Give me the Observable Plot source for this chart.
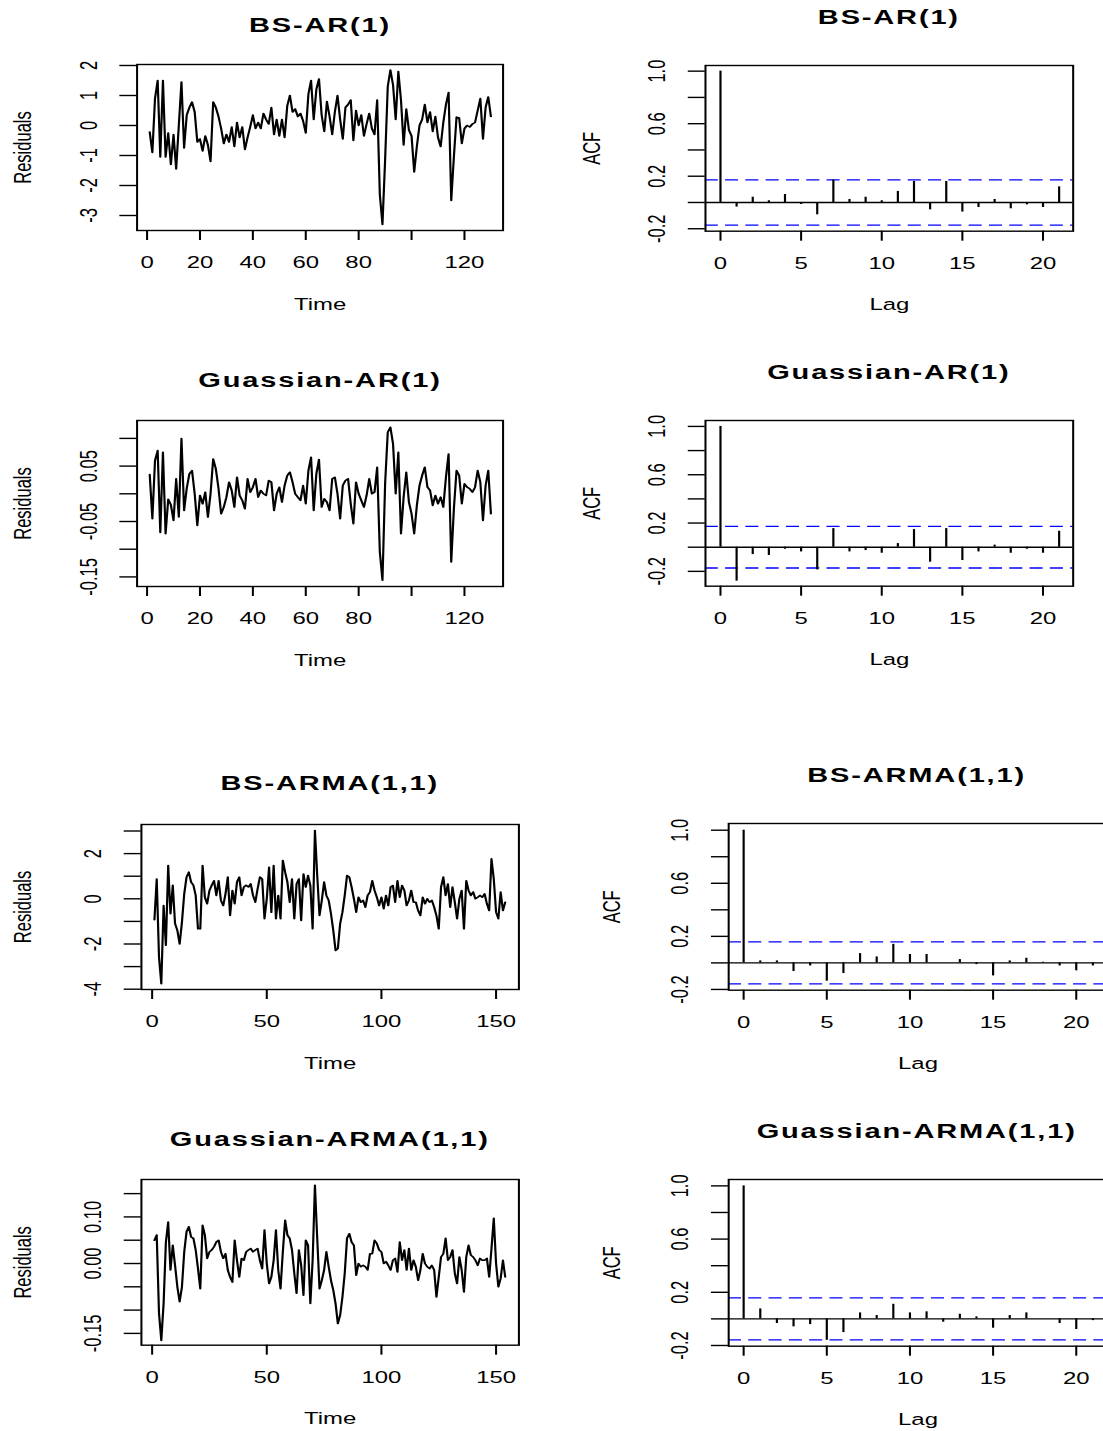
<!DOCTYPE html>
<html><head><meta charset="utf-8">
<script src="https://cdn.jsdelivr.net/npm/d3@7"></script>
<script src="https://cdn.jsdelivr.net/npm/@observablehq/plot@0.6"></script>
<style>
html,body{margin:0;padding:0;background:#fff;overflow:hidden;width:1103px;height:1431px;}
#stage{position:absolute;left:0;top:0;width:800px;height:1431px;transform:scaleX(1.45);transform-origin:0 0;font-family:"Liberation Sans",Arial,sans-serif;}
.title{position:absolute;font-weight:bold;font-size:20px;letter-spacing:1.27px;white-space:nowrap;transform:translate(-50%,-50%);color:#000;line-height:1.15;}
.panel{position:absolute;}
#stage svg{max-width:none !important;overflow:visible !important;background:transparent !important;font-family:"Liberation Sans",Arial,sans-serif !important;}
</style></head>
<body><div id="stage"></div>
<script>
// ---------------- data ----------------
const titlesLeft = ["BS-AR(1)", "Guassian-AR(1)", "BS-ARMA(1,1)", "Guassian-ARMA(1,1)"];

const bsAR1 = [-0.22,-0.9,0.9,1.5,-1.05,1.5,-1.05,-0.25,-1.3,-0.3,-1.45,0.0,1.45,-0.75,0.35,0.6,0.78,0.45,-0.55,-0.45,
-0.85,-0.35,-0.65,-1.2,0.78,0.6,0.3,-0.1,-0.6,-0.3,-0.55,-0.05,-0.7,0.1,-0.4,-0.05,-0.8,-0.4,-0.05,0.35,
-0.1,0.1,-0.1,0.4,0.2,0.05,0.6,-0.3,0.2,-0.35,0.2,-0.4,0.65,1.0,0.45,0.55,0.3,0.4,0.15,-0.25,
1.05,1.5,0.2,1.2,1.55,0.35,-0.2,0.8,0.3,-0.3,0.45,1.0,0.2,-0.45,0.6,0.7,0.85,-0.5,0.5,0.0,
0.35,-0.35,0.05,0.4,-0.1,-0.3,0.85,-2.3,-3.3,-1.15,1.3,1.85,1.35,0.2,1.8,0.85,-0.65,0.55,-0.15,-0.35,
-1.55,-0.7,0.0,0.2,0.7,0.1,0.45,-0.2,0.3,-0.4,-0.7,0.1,0.7,1.1,-2.5,-1.05,0.28,0.25,-0.6,-0.1,
0.0,-0.05,0.05,0.1,0.5,0.9,-0.45,0.6,0.95,0.3];

const gaussAR1 = [0.035,-0.045,0.06,0.078,-0.07,0.075,-0.072,-0.01,-0.02,-0.048,0.027,-0.042,0.1,-0.03,0.01,0.036,0.042,0.0,-0.057,-0.003,
-0.018,0.003,-0.042,0.0,0.063,0.045,0.01,-0.036,-0.024,-0.006,0.021,0.006,-0.024,0.03,-0.003,-0.012,-0.027,0.027,0.003,0.012,
0.027,-0.006,0.006,0.0,-0.003,0.024,0.021,-0.03,0.0,0.012,-0.015,0.015,0.033,0.039,0.021,0.0,-0.006,-0.012,0.015,-0.018,
0.042,0.066,-0.03,0.036,0.062,-0.024,-0.009,-0.015,-0.03,0.027,0.03,0.0,-0.045,0.015,0.024,0.027,-0.018,-0.054,0.021,0.0,
-0.012,-0.024,-0.003,0.027,0.0,0.003,0.048,-0.105,-0.156,0.018,0.111,0.12,0.09,0.0,0.075,-0.072,-0.006,0.039,-0.015,-0.036,
-0.072,-0.021,0.015,0.033,0.048,0.012,0.006,-0.021,-0.003,-0.018,-0.006,-0.024,0.03,0.072,-0.123,-0.027,0.042,0.033,-0.018,0.018,
0.012,0.009,0.003,0.012,0.042,0.021,-0.048,0.015,0.042,-0.036];

const bsARMA = [-0.93,0.88,-2.58,-3.76,-0.3,-2.06,1.47,-0.66,0.6,-1.1,-1.4,-2.0,-1.03,0.22,0.96,1.18,0.74,0.6,0.15,-1.33,
-1.33,1.47,0.07,-0.22,0.37,0.6,0.8,0.15,0.8,-0.07,-0.3,0.22,0.96,-0.74,0.37,-0.22,0.74,0.96,0.15,0.52,
0.6,0.52,0.66,0.15,-0.15,0.44,0.96,0.88,-0.88,0.0,1.4,-0.6,1.47,-0.88,0.15,-0.88,1.7,1.18,0.74,-0.15,
0.88,-0.88,0.66,0.88,-0.96,1.1,0.52,1.03,0.59,-1.33,3.02,1.03,-0.74,-0.07,0.74,0.15,-0.07,-0.66,-1.4,-2.29,
-2.2,-1.1,-0.59,0.15,1.03,0.96,0.52,0.0,-0.59,0.07,-0.15,-0.07,-0.37,0.15,0.3,0.8,0.37,0.07,-0.3,0.07,
-0.44,0.15,-0.3,0.52,0.59,-0.15,0.8,0.07,0.59,0.37,-0.3,-0.07,0.37,-0.15,-0.15,-0.52,-0.74,0.07,-0.22,0.0,
-0.15,-0.07,-0.37,-0.74,-1.33,0.52,0.96,0.15,0.66,-0.37,0.52,-0.15,-0.88,0.0,0.37,-1.33,0.8,0.37,0.15,0.3,
0.0,0.07,0.15,0.07,0.22,-0.22,-0.52,1.77,0.88,-0.59,-0.88,0.3,-0.52,-0.15];

const gaussARMA = [0.05,0.061,-0.107,-0.165,-0.086,0.046,0.089,-0.014,0.039,-0.004,-0.05,-0.082,-0.05,0.025,0.068,0.079,0.057,0.054,0.029,-0.011,
-0.054,0.082,0.061,0.011,0.025,0.029,0.036,0.046,0.05,0.025,0.011,0.021,-0.014,-0.029,-0.04,0.05,0.007,-0.029,0.011,0.007,
0.025,0.029,0.032,0.025,0.029,0.032,0.007,-0.011,0.072,0.0,-0.043,-0.029,0.007,0.072,-0.014,-0.054,0.025,0.093,0.061,0.054,
0.029,-0.021,-0.064,0.029,-0.004,-0.068,0.05,0.039,-0.086,0.007,0.168,0.054,-0.054,-0.036,-0.014,0.025,-0.007,-0.036,-0.057,-0.086,
-0.129,-0.111,-0.072,-0.021,0.054,0.064,0.046,0.039,-0.025,0.0,-0.007,-0.004,-0.007,-0.014,0.021,0.021,0.05,0.043,0.029,0.025,
0.0,0.004,-0.004,-0.014,0.007,0.011,-0.018,0.046,0.007,0.029,-0.014,0.032,-0.014,0.007,-0.007,-0.036,-0.014,0.021,0.0,-0.007,
-0.011,-0.004,-0.014,-0.072,-0.029,0.014,0.021,0.054,0.007,0.014,0.029,-0.021,-0.043,0.014,-0.014,-0.061,0.014,0.039,0.018,0.014,
0.007,-0.004,0.011,0.007,0.007,0.011,-0.029,0.032,0.097,0.0,-0.05,-0.032,0.007,-0.029];

const acfBsAR1 = [1.0,-0.035,0.04,0.013,0.061,-0.015,-0.094,0.17,0.023,0.04,0.013,0.084,0.16,-0.056,0.16,-0.073,-0.038,0.023,-0.048,-0.018,-0.038,0.119];
const acfGaussAR1 = [1.0,-0.281,-0.061,-0.069,-0.017,-0.039,-0.188,0.154,-0.039,-0.028,-0.05,0.03,0.146,-0.124,0.154,-0.11,-0.039,0.017,-0.05,-0.017,-0.05,0.132];
const acfBsARMA = [1.0,0.015,0.015,-0.065,-0.023,-0.138,-0.08,0.07,0.045,0.14,0.063,0.063,0.0,0.025,-0.013,-0.098,0.015,0.035,0.005,-0.023,-0.06,-0.023];
const acfGaussARMA = [1.0,0.075,-0.035,-0.06,-0.043,-0.161,-0.103,0.045,0.025,0.11,0.045,0.053,-0.025,0.035,0.015,-0.07,0.025,0.045,0.0,-0.035,-0.08,-0.013];
const ciAR = 0.172;
const ciARMA = 0.158;

const ticksTimeAR = [0,20,40,60,80,100,120];
const labelsTimeAR = [0,20,40,60,80,120];
const ticksTimeARMA = [0,50,100,150];
const ticksLag = [0,5,10,15,20];
const ticksAcf = [-0.2,0,0.2,0.4,0.6,0.8,1.0];
const labelsAcf = [-0.2,0.2,0.6,1.0];
const ticksResBsAR = [-3,-2,-1,0,1,2];
const ticksResGaussAR = [-0.15,-0.1,-0.05,0,0.05,0.1];
const labelsResGaussAR = [-0.15,-0.05,0.05];
const ticksResBsARMA = [-4,-3,-2,-1,0,1,2,3];
const labelsResBsARMA = [-4,-2,0,2];
const ticksResGaussARMA = [-0.15,-0.1,-0.05,0,0.05,0.1,0.15];
const labelsResGaussARMA = [-0.15,0,0.1];

// ---------------- layout ----------------
const S = 1.45;           // horizontal stretch of the original picture
const mL = 132, mR = 24, mT = 16, mB = 92;
const stage = document.getElementById("stage");
const intFmt = d => String(d);
const f1 = d => d.toFixed(1);
const f2 = d => d.toFixed(2);

function addTitle(text, cx, cy) {
  const d = document.createElement("div");
  d.className = "title";
  d.textContent = text;
  d.style.left = (cx / S) + "px";
  d.style.top = cy + "px";
  stage.appendChild(d);
}

function addPanel(cfg, dataMarks) {
  const [fx0, fx1, fy0, fy1] = cfg.frame;
  const w = (fx1 - fx0 + mL + mR) / S;
  const h = fy1 - fy0 + mT + mB;
  const fs = 16.5;
  const plot = Plot.plot({
    width: w, height: h,
    marginLeft: mL / S, marginRight: mR / S, marginTop: mT, marginBottom: mB,
    x: {domain: cfg.xDomain},
    y: {domain: cfg.yDomain},
    marks: [
      ...dataMarks,
      Plot.frame({stroke: "#000", strokeWidth: 1.4}),
      Plot.axisY({ticks: cfg.yTicks, tickSize: 17 / S, tickFormat: () => "", fill: "none", label: null, strokeWidth: 1.4}),
      Plot.axisX({ticks: cfg.xTicks, tickSize: 10, tickFormat: () => "", fill: "none", label: null, strokeWidth: 1.4}),
      Plot.text(cfg.yLabels, {y: d => d, text: cfg.yFmt, frameAnchor: "left", dx: -48 / S, rotate: -90,
        textAnchor: "middle", lineAnchor: "middle", fontSize: fs, fill: "#000"}),
      Plot.text(cfg.xLabels, {x: d => d, text: intFmt, frameAnchor: "bottom", dy: 32.5,
        textAnchor: "middle", lineAnchor: "middle", fontSize: fs, fill: "#000"}),
      Plot.text([cfg.xTitle], {text: d => d, frameAnchor: "bottom", dy: 74,
        textAnchor: "middle", lineAnchor: "middle", fontSize: fs, fill: "#000"}),
      Plot.text([cfg.yTitle], {text: d => d, frameAnchor: "left", dx: -cfg.yTitleOff / S, rotate: -90,
        textAnchor: "middle", lineAnchor: "middle", fontSize: fs, fill: "#000"})
    ]
  });
  const div = document.createElement("div");
  div.className = "panel";
  div.style.left = ((fx0 - mL) / S) + "px";
  div.style.top = (fy0 - mT) + "px";
  div.style.width = w + "px";
  div.style.height = h + "px";
  div.appendChild(plot);
  stage.appendChild(div);
  addTitle(cfg.title, (fx0 + fx1) / 2, cfg.titleY);
}

function seriesMarks(values) {
  const data = values.map((v, i) => ({t: i + 1, v}));
  return [Plot.line(data, {x: "t", y: "v", stroke: "#000", strokeWidth: 1.5})];
}
function acfMarks(values, ci) {
  const data = values.map((v, i) => ({lag: i, v}));
  return [
    Plot.ruleY([-ci, ci], {stroke: "#0000ff", strokeWidth: 1.3, strokeDasharray: "9,5"}),
    Plot.ruleY([0], {stroke: "#000", strokeWidth: 1.4}),
    Plot.ruleX(data, {x: "lag", y1: 0, y2: "v", stroke: "#000", strokeWidth: 1.5})
  ];
}

// Row 1
addPanel({title: titlesLeft[0], titleY: 24.5, frame: [137, 503, 64, 230],
  xDomain: [-3.78, 134.6], yDomain: [-3.5, 2.033],
  xTicks: ticksTimeAR, xLabels: labelsTimeAR, yTicks: ticksResBsAR, yLabels: ticksResBsAR, yFmt: intFmt,
  xTitle: "Time", yTitle: "Residuals", yTitleOff: 114}, seriesMarks(bsAR1));
addPanel({title: titlesLeft[0], titleY: 16.5, frame: [705, 1072.7, 65, 230.7],
  xDomain: [-0.93, 21.87], yDomain: [-0.2186, 1.043],
  xTicks: ticksLag, xLabels: ticksLag, yTicks: ticksAcf, yLabels: labelsAcf, yFmt: f1,
  xTitle: "Lag", yTitle: "ACF", yTitleOff: 113}, acfMarks(acfBsAR1, ciAR));
// Row 2
addPanel({title: titlesLeft[1], titleY: 380, frame: [137, 503, 420, 586],
  xDomain: [-3.78, 134.6], yDomain: [-0.1673, 0.1323],
  xTicks: ticksTimeAR, xLabels: labelsTimeAR, yTicks: ticksResGaussAR, yLabels: labelsResGaussAR, yFmt: f2,
  xTitle: "Time", yTitle: "Residuals", yTitleOff: 114}, seriesMarks(gaussAR1));
addPanel({title: titlesLeft[1], titleY: 372, frame: [705, 1072.7, 420, 585.7],
  xDomain: [-0.93, 21.87], yDomain: [-0.3228, 1.049],
  xTicks: ticksLag, xLabels: ticksLag, yTicks: ticksAcf, yLabels: labelsAcf, yFmt: f1,
  xTitle: "Lag", yTitle: "ACF", yTitleOff: 113}, acfMarks(acfGaussAR1, ciAR));
// Row 3
addPanel({title: titlesLeft[2], titleY: 783, frame: [141, 518.5, 824, 989],
  xDomain: [-4.67, 159.96], yDomain: [-4.013, 3.288],
  xTicks: ticksTimeARMA, xLabels: ticksTimeARMA, yTicks: ticksResBsARMA, yLabels: labelsResBsARMA, yFmt: intFmt,
  xTitle: "Time", yTitle: "Residuals", yTitleOff: 118}, seriesMarks(bsARMA));
addPanel({title: titlesLeft[2], titleY: 775, frame: [727.3, 1106, 823.3, 990],
  xDomain: [-0.9, 21.87], yDomain: [-0.2057, 1.0505],
  xTicks: ticksLag, xLabels: ticksLag, yTicks: ticksAcf, yLabels: labelsAcf, yFmt: f1,
  xTitle: "Lag", yTitle: "ACF", yTitleOff: 116}, acfMarks(acfBsARMA, ciARMA));
// Row 4
addPanel({title: titlesLeft[3], titleY: 1139, frame: [141, 518.5, 1179.3, 1345],
  xDomain: [-4.67, 159.96], yDomain: [-0.1753, 0.1803],
  xTicks: ticksTimeARMA, xLabels: ticksTimeARMA, yTicks: ticksResGaussARMA, yLabels: labelsResGaussARMA, yFmt: f2,
  xTitle: "Time", yTitle: "Residuals", yTitleOff: 118}, seriesMarks(gaussARMA));
addPanel({title: titlesLeft[3], titleY: 1131, frame: [727.3, 1106, 1179.3, 1346],
  xDomain: [-0.9, 21.87], yDomain: [-0.2053, 1.048],
  xTicks: ticksLag, xLabels: ticksLag, yTicks: ticksAcf, yLabels: labelsAcf, yFmt: f1,
  xTitle: "Lag", yTitle: "ACF", yTitleOff: 116}, acfMarks(acfGaussARMA, ciARMA));
</script>
</body></html>
